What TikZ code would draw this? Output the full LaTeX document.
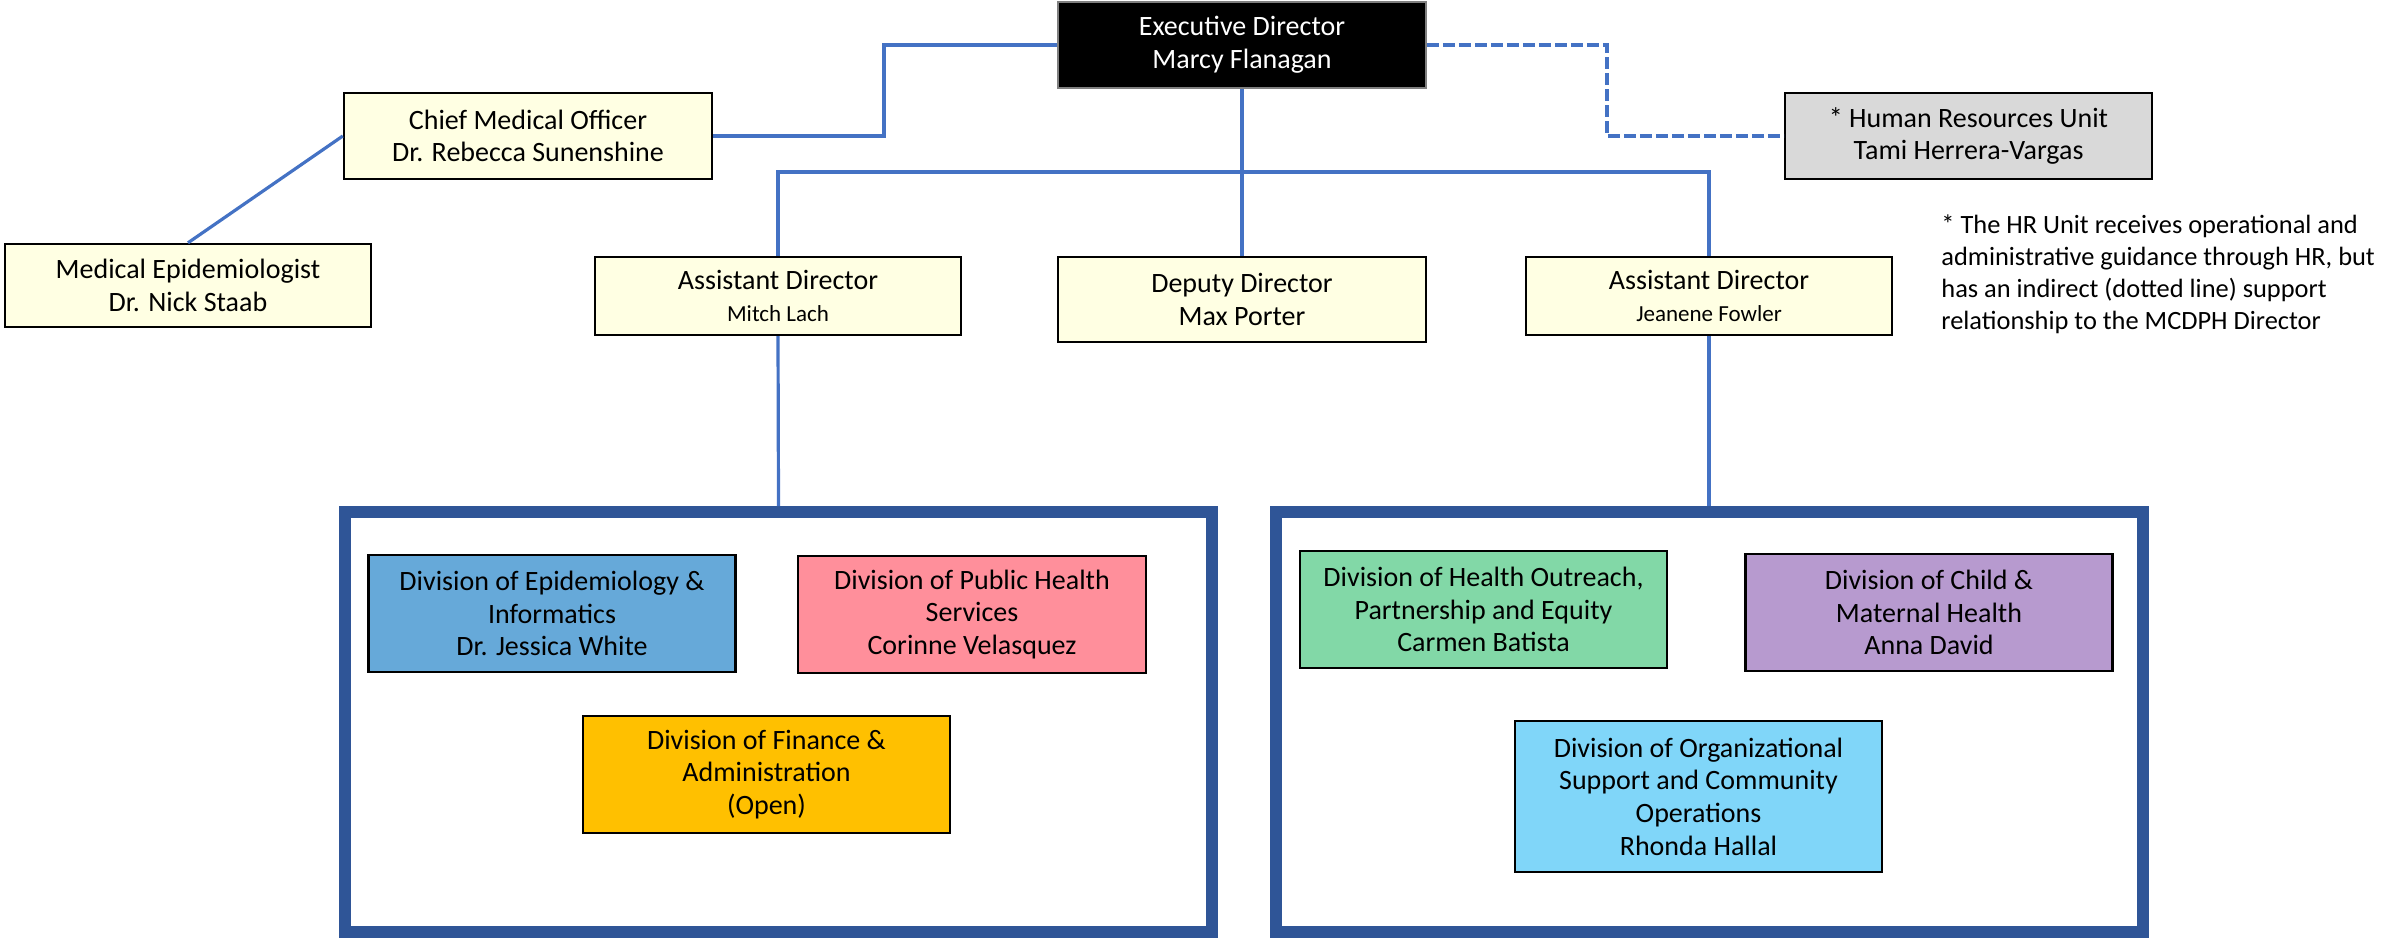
\documentclass[tikz,border=0pt]{standalone}
\usepackage{fontspec}
\setmainfont{Carlito}
\usetikzlibrary{positioning}
\definecolor{linkblue}{HTML}{4472C4}
\definecolor{frameblue}{HTML}{2F5597}
\definecolor{postyellow}{HTML}{FFFFE3}
\definecolor{hrgray}{HTML}{D9D9D9}
\definecolor{epiblue}{HTML}{66A9D9}
\definecolor{phspink}{HTML}{FF8F9B}
\definecolor{finorange}{HTML}{FFC000}
\definecolor{outgreen}{HTML}{82D8A7}
\definecolor{childpurple}{HTML}{B79ACF}
\definecolor{orgcyan}{HTML}{80D6F9}
\newcommand{\smallname}[1]{{\fontsize{11.5}{14}\selectfont #1}}
\tikzset{
  post/.style={draw=black, line width=1.2pt, fill=postyellow, align=center,
    inner sep=2pt, font=\fontsize{14}{16.3}\selectfont},
  division/.style={post, minimum width=183.5pt, minimum height=58.5pt},
  link/.style={draw=linkblue, line width=1.6pt},
  group/.style={draw=frameblue, line width=6pt, minimum width=433.5pt,
    minimum height=210pt},
}

\begin{document}
\begin{tikzpicture}[x=0.5pt, y=-0.5pt]
  \useasboundingbox (0,0) rectangle (2382,938);
  % the two division frames
  \node[group] (leftgrp)  at (778.5,722) {};
  \node[group] (rightgrp) at (1709.5,722) {};
  % top level
  \node[post, fill=black, draw=gray, line width=0.8pt, text=white,
    minimum width=184pt, minimum height=43pt] (exec) at (1242,45)
    {Executive Director\\Marcy Flanagan};
  \node[post, minimum width=184pt, minimum height=43pt] (cmo) at (528,136)
    {Chief Medical Officer\\Dr. Rebecca Sunenshine};
  \node[post, minimum width=183pt, minimum height=41.5pt] (medepi) at (188,285.5)
    {Medical Epidemiologist\\Dr. Nick Staab};
  \node[post, fill=hrgray, minimum width=183.5pt, minimum height=43pt] (hr) at (1968.5,136)
    {* Human Resources Unit\\Tami Herrera-Vargas};
  % directors
  \node[post, minimum width=183pt, minimum height=39pt] (asstleft) at (778,296)
    {Assistant Director\\\smallname{Mitch Lach}};
  \node[post, minimum width=184pt, minimum height=42.5pt] (deputy) at (1242,299.5)
    {Deputy Director\\Max Porter};
  \node[post, minimum width=183pt, minimum height=39pt] (asstright) at (1709,296)
    {Assistant Director\\\smallname{Jeanene Fowler}};
  % note on the HR unit
  \node[anchor=north west, align=left, inner sep=0pt,
    font=\fontsize{13.2}{16}\selectfont] (note) at (1941,214)
    {* The HR Unit receives operational and\\
     administrative guidance through HR, but\\
     has an indirect (dotted line) support\\
     relationship to the MCDPH Director};
  % divisions
  \node[division, fill=epiblue] (epi) at (552,613.5)
    {Division of Epidemiology \&\\Informatics\\Dr. Jessica White};
  \node[division, fill=phspink, minimum width=174pt] (phs) at (972,614.5)
    {Division of Public Health\\Services\\Corinne Velasquez};
  \node[division, fill=finorange] (fin) at (766.5,774.5)
    {Division of Finance \&\\Administration\\(Open)};
  \node[division, fill=outgreen] (outreach) at (1483.5,609.5)
    {Division of Health Outreach,\\Partnership and Equity\\Carmen Batista};
  \node[division, fill=childpurple] (child) at (1929,612.5)
    {Division of Child \&\\Maternal Health\\Anna David};
  \node[division, fill=orgcyan, minimum height=75.5pt] (orgsup) at (1698.5,796.5)
    {Division of Organizational\\Support and Community\\Operations\\Rhonda Hallal};
  % connectors
  \coordinate (bus) at (1242,172);
  \draw[link, line width=2pt] (exec.west) -- ++(-173,0) |- (cmo.east);
  \draw[link] (cmo.west) -- (medepi.north);
  \draw[link] (exec.south) -- (deputy.north);
  \draw[link] (asstleft.north) |- (bus) -| (asstright.north);
  \draw[link] (asstleft.south) -- (leftgrp.north);
  \draw[link] (asstright.south) -- (asstright.south |- rightgrp.north);
  \draw[link, line width=2pt, dash pattern=on 6pt off 2pt]
    (exec.east) -- ++(180,0) |- (hr.west);
\end{tikzpicture}
\end{document}
